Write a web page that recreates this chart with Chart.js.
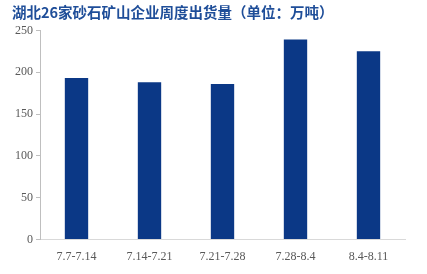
<!DOCTYPE html>
<html><head><meta charset="utf-8">
<script src="https://cdn.jsdelivr.net/npm/chart.js@4/dist/chart.umd.min.js"></script>
<style>html,body{margin:0;padding:0;background:#fff;}#wrap{width:427px;height:274px;}</style>
</head><body><div id="wrap"><canvas id="c" width="427" height="274"></canvas></div>
<script>
const titleText = '湖北26家砂石矿山企业周度出货量（单位：万吨）';
const categories = ['7.7-7.14', '7.14-7.21', '7.21-7.28', '7.28-8.4', '8.4-8.11'];
const shipments = [193, 188, 186, 239, 225];
const yTicks = [0, 50, 100, 150, 200, 250];

new Chart(document.getElementById('c'), {
  type: 'bar',
  data: {
    labels: categories,
    datasets: [{ data: shipments, backgroundColor: '#0b3886', barPercentage: 0.32, categoryPercentage: 1 }]
  },
  options: {
    responsive: false,
    animation: false,
    layout: { padding: { left: 12, right: 22, top: 2, bottom: 0 } },
    plugins: {
      legend: { display: false },
      tooltip: { enabled: false },
      title: {
        display: true, text: titleText, align: 'start', color: '#1f4e99',
        font: { family: 'Noto Sans CJK SC', size: 14.5, weight: 'bold' },
        padding: { top: 2, bottom: 9 }
      }
    },
    scales: {
      x: {
        grid: { display: false, drawTicks: false },
        border: { color: '#d9d9d9', width: 1 },
        ticks: { color: '#595959', font: { family: 'Liberation Serif', size: 12 }, padding: 10 }
      },
      y: {
        min: 0, max: 250,
        afterBuildTicks: (ax) => { ax.ticks = yTicks.map(v => ({ value: v })); },
        grid: { drawOnChartArea: false, drawTicks: true, tickLength: 4, color: '#bfbfbf' },
        border: { color: '#bfbfbf', width: 1 },
        ticks: { color: '#595959', font: { family: 'Liberation Serif', size: 12 }, padding: 3 }
      }
    }
  }
});
</script></body></html>
